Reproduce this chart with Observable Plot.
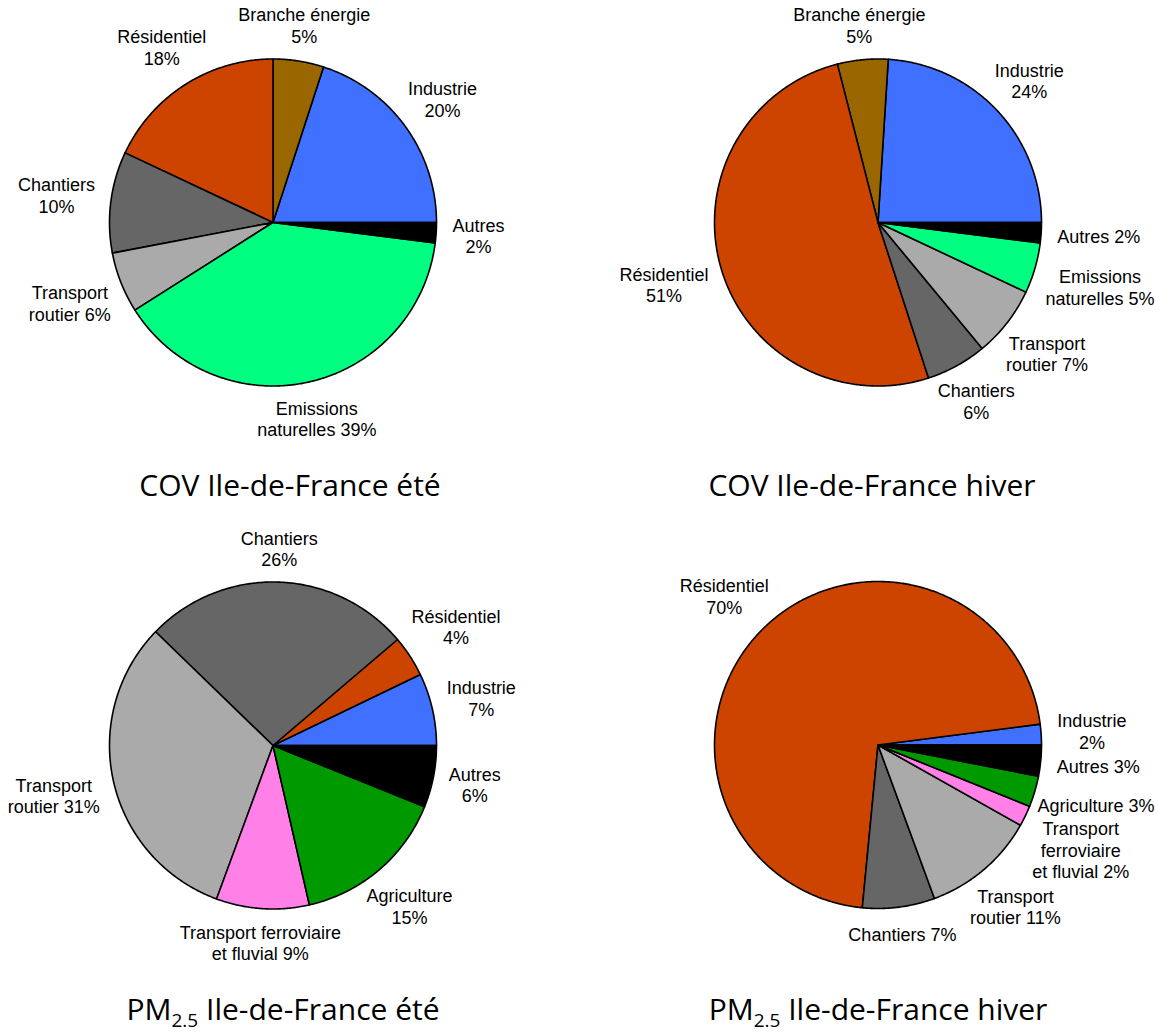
<!DOCTYPE html>
<html>
<head>
<meta charset="utf-8">
<script src="https://cdn.jsdelivr.net/npm/d3@7"></script>
<script src="https://cdn.jsdelivr.net/npm/@observablehq/plot@0.6"></script>
<style>
  html, body { margin: 0; padding: 0; background: #fff; }
  #root { position: relative; width: 1156px; height: 1036px; overflow: hidden; background: #fff; }
  .panel { position: absolute; }
  .panel svg { overflow: visible; max-width: none !important; }
  .title { position: absolute; font-family: "Open Sans", sans-serif; font-size: 30px; line-height: 30px;
           color: #000; white-space: nowrap; transform: translateX(-50%); }
  .title sub { font-size: 19px; vertical-align: -7px; line-height: 0; }
</style>
</head>
<body>
<div id="root"></div>
<script>
// ---------- data ----------
const sectorColors = {
  "Industrie": "#4070FF",
  "Branche énergie": "#996600",
  "Résidentiel": "#CC4400",
  "Chantiers": "#666666",
  "Transport routier": "#AAAAAA",
  "Emissions naturelles": "#00FF80",
  "Autres": "#000000",
  "Transport ferroviaire et fluvial": "#FF80E6",
  "Agriculture": "#009900"
};

// COV Ile-de-France été (counter-clockwise from 3 o'clock)
const covEteSectors = ["Industrie", "Branche énergie", "Résidentiel", "Chantiers", "Transport routier", "Emissions naturelles", "Autres"];
const covEteValues  = [20, 5, 18, 10, 6, 39, 2];
const covEteLabels  = ["Industrie\n20%", "Branche énergie\n5%", "Résidentiel\n18%", "Chantiers\n10%", "Transport\nroutier 6%", "Emissions\nnaturelles 39%", "Autres\n2%"];

// COV Ile-de-France hiver
const covHiverSectors = ["Industrie", "Branche énergie", "Résidentiel", "Chantiers", "Transport routier", "Emissions naturelles", "Autres"];
const covHiverValues  = [24, 5, 51, 6, 7, 5, 2];
const covHiverLabels  = ["Industrie\n24%", "Branche énergie\n5%", "Résidentiel\n51%", "Chantiers\n6%", "Transport\nroutier 7%", "Emissions\nnaturelles 5%", "Autres 2%"];

// PM2.5 Ile-de-France été
const pmEteSectors = ["Industrie", "Résidentiel", "Chantiers", "Transport routier", "Transport ferroviaire et fluvial", "Agriculture", "Autres"];
const pmEteValues  = [7, 4, 26, 31, 9, 15, 6];
const pmEteLabels  = ["Industrie\n7%", "Résidentiel\n4%", "Chantiers\n26%", "Transport\nroutier 31%", "Transport ferroviaire\net fluvial 9%", "Agriculture\n15%", "Autres\n6%"];

// PM2.5 Ile-de-France hiver
const pmHiverSectors = ["Industrie", "Résidentiel", "Chantiers", "Transport routier", "Transport ferroviaire et fluvial", "Agriculture", "Autres"];
const pmHiverValues  = [2, 70, 7, 11, 2, 3, 3];
const pmHiverLabels  = ["Industrie\n2%", "Résidentiel\n70%", "Chantiers 7%", "Transport\nroutier 11%", "Transport\nferroviaire\net fluvial 2%", "Agriculture 3%", "Autres 3%"];

const chartTitles = [
  "COV Ile-de-France été",
  "COV Ile-de-France hiver",
  "PM<sub>2.5</sub> Ile-de-France été",
  "PM<sub>2.5</sub> Ile-de-France hiver"
];

// ---------- layout ----------
const PAGE_W = 1156;
const R = 163.5;               // pie radius (px)
const LABEL_FONT = 18;
const LINE_H = 21.5;
const FONT_FAMILY = "'Liberation Sans', Arial, sans-serif";

const panels = [
  {left: 0,   top: 0,   w: 578, h: 470, cx: 272.5, cy: 222,   sectors: covEteSectors,   values: covEteValues,   labels: covEteLabels,   title: chartTitles[0], tx: 290, ty: 470},
  {left: 578, top: 0,   w: 578, h: 470, cx: 299.5, cy: 222,   sectors: covHiverSectors, values: covHiverValues, labels: covHiverLabels, title: chartTitles[1], tx: 872, ty: 470},
  {left: 0,   top: 520, w: 578, h: 470, cx: 272.5, cy: 225,   sectors: pmEteSectors,    values: pmEteValues,    labels: pmEteLabels,    title: chartTitles[2], tx: 283, ty: 994},
  {left: 578, top: 520, w: 578, h: 470, cx: 299.5, cy: 224.5, sectors: pmHiverSectors,  values: pmHiverValues,  labels: pmHiverLabels,  title: chartTitles[3], tx: 878, ty: 994}
];

const ctx = document.createElement("canvas").getContext("2d");
ctx.font = `${LABEL_FONT}px ${FONT_FAMILY}`;

function pieChart(p) {
  const total = d3.sum(p.values);
  let acc = 0;
  const slices = p.sectors.map((s, i) => {
    const a0 = acc / total * 2 * Math.PI;
    acc += p.values[i];
    const a1 = acc / total * 2 * Math.PI;
    return {sector: s, a0, a1, label: p.labels[i]};
  });

  const marks = [];
  for (const s of slices) {
    const n = Math.max(2, Math.ceil((s.a1 - s.a0) / (Math.PI / 360)));
    const pts = [{x: 0, y: 0}];
    for (let k = 0; k <= n; k++) {
      const a = s.a0 + (s.a1 - s.a0) * k / n;
      pts.push({x: Math.cos(a), y: Math.sin(a)});
    }
    marks.push(Plot.line(pts, {
      x: "x", y: "y", curve: "linear-closed",
      fill: sectorColors[s.sector], stroke: "#000", strokeWidth: 1.6, strokeLinejoin: "round"
    }));
  }

  // labels outside the pie, along the slice's mid angle
  const xMaxU = (PAGE_W - p.left - p.cx - 2) / R;   // right page edge in pie units
  const labelData = slices.map(s => {
    const m = (s.a0 + s.a1) / 2;
    const lines = s.label.split("\n");
    const wpx = d3.max(lines, l => ctx.measureText(l).width);
    const hw = wpx / 2 / R, hh = 0.8 * lines.length * LINE_H / 2 / R;
    const c = Math.cos(m), si = Math.sin(m);
    const d = 1.1 + Math.sqrt((c * hw) ** 2 + (si * hh) ** 2);
    return {x: Math.min(d * c, xMaxU - hw), y: d * si, text: s.label, hwU: hw, hhU: lines.length * LINE_H / 2 / R};
  });
  // simple vertical de-overlap of label boxes
  for (let it = 0; it < 50; it++) {
    let moved = false;
    for (let i = 0; i < labelData.length; i++) {
      for (let j = i + 1; j < labelData.length; j++) {
        const a = labelData[i], b = labelData[j];
        const ox = (a.hwU + b.hwU) - Math.abs(a.x - b.x);
        const oy = (a.hhU + b.hhU + 2 / R) - Math.abs(a.y - b.y);
        if (ox > 0 && oy > 0) {
          const dir = a.y >= b.y ? 1 : -1;
          a.y += dir * oy / 2; b.y -= dir * oy / 2;
          moved = true;
        }
      }
    }
    if (!moved) break;
  }
  marks.push(Plot.text(labelData, {
    x: "x", y: "y", text: "text", textAnchor: "middle", lineAnchor: "middle",
    fontSize: LABEL_FONT, fontFamily: FONT_FAMILY, lineHeight: LINE_H / LABEL_FONT, fill: "#000"
  }));

  return Plot.plot({
    width: p.w, height: p.h, margin: 0,
    x: {domain: [-p.cx / R, (p.w - p.cx) / R], axis: null},
    y: {domain: [-(p.h - p.cy) / R, p.cy / R], axis: null},
    style: {background: "transparent", overflow: "visible"},
    marks
  });
}

const root = document.getElementById("root");
for (const p of panels) {
  const div = document.createElement("div");
  div.className = "panel";
  div.style.left = p.left + "px";
  div.style.top = p.top + "px";
  div.appendChild(pieChart(p));
  root.appendChild(div);

  const t = document.createElement("div");
  t.className = "title";
  t.style.left = p.tx + "px";
  t.style.top = p.ty + "px";
  t.innerHTML = p.title;
  root.appendChild(t);
}
</script>
</body>
</html>
